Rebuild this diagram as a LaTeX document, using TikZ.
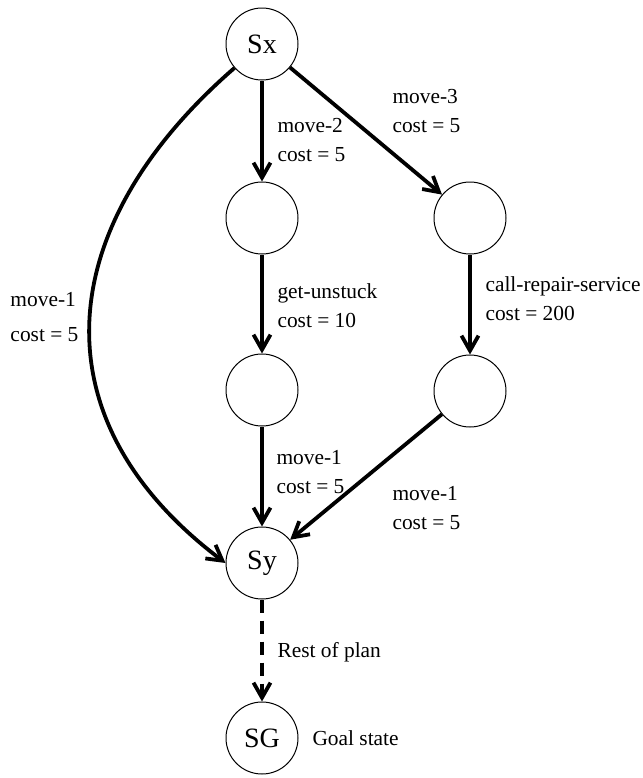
\documentclass[tikz,border=0pt]{standalone}
\usepackage{fontspec}
\setmainfont{Liberation Serif}
\usetikzlibrary{arrows.meta}

\tikzset{every picture/.style={line width=0.5pt}}
\tikzset{
  state/.style={draw, circle, minimum size=36pt, inner sep=0pt, font=\fontsize{14}{16}\selectfont},
  lbl/.style={anchor=west, inner sep=0pt, align=left, font=\fontsize{10.7}{14.5}\selectfont},
  act/.style={line width=1.9pt, -{Straight Barb[length=7.5pt,width=8.5pt]}}
}

\begin{document}
\begin{tikzpicture}[x=0.5pt,y=0.5pt,yscale=-1,xscale=1]
\useasboundingbox (0,0) rectangle (643,778);

%Shape: Circle [states]
\node [state] (sx) at (262,44) {Sx};
\node [state] (a1) at (262,218) {};
\node [state] (b1) at (470,218) {};
\node [state] (a2) at (262,390) {};
\node [state] (b2) at (470,391) {};
\node [state] (sy) at (262,563) {Sy};
\node [state] (sg) at (262,738) {SG};

%Arrows
\draw [act] (sx.221) to [out=139,in=217,looseness=1.24] (sy.west);
\draw [act] (sx) -- (a1);
\draw [act] (sx) -- (b1);
\draw [act] (a1) -- (a2);
\draw [act] (b1) -- (b2);
\draw [act] (a2) -- (sy);
\draw [act] (b2) -- (sy);
\draw [act, dash pattern=on 6.5pt off 4pt] (sy) -- (sg);

% Text Node
\node [lbl] (t1) at (10,317) {move-1\\[3pt]cost = 5};
% Text Node
\node [lbl] (t2) at (277,140) {move-2\\cost = 5};
% Text Node
\node [lbl] (t3) at (392,111) {move-3\\cost = 5};
% Text Node
\node [lbl] (t4) at (277,306) {get-unstuck\\cost = 10};
% Text Node
\node [lbl] (t5) at (485,299) {call-repair-service\\cost = 200};
% Text Node
\node [lbl] (t6) at (276,472) {move-1\\cost = 5};
% Text Node
\node [lbl] (t7) at (392,508) {move-1\\cost = 5};
% Text Node
\node [lbl] (t8) at (277,652) {Rest of plan};
% Text Node
\node [lbl] (t9) at (312,738) {Goal state};
\end{tikzpicture}
\end{document}
